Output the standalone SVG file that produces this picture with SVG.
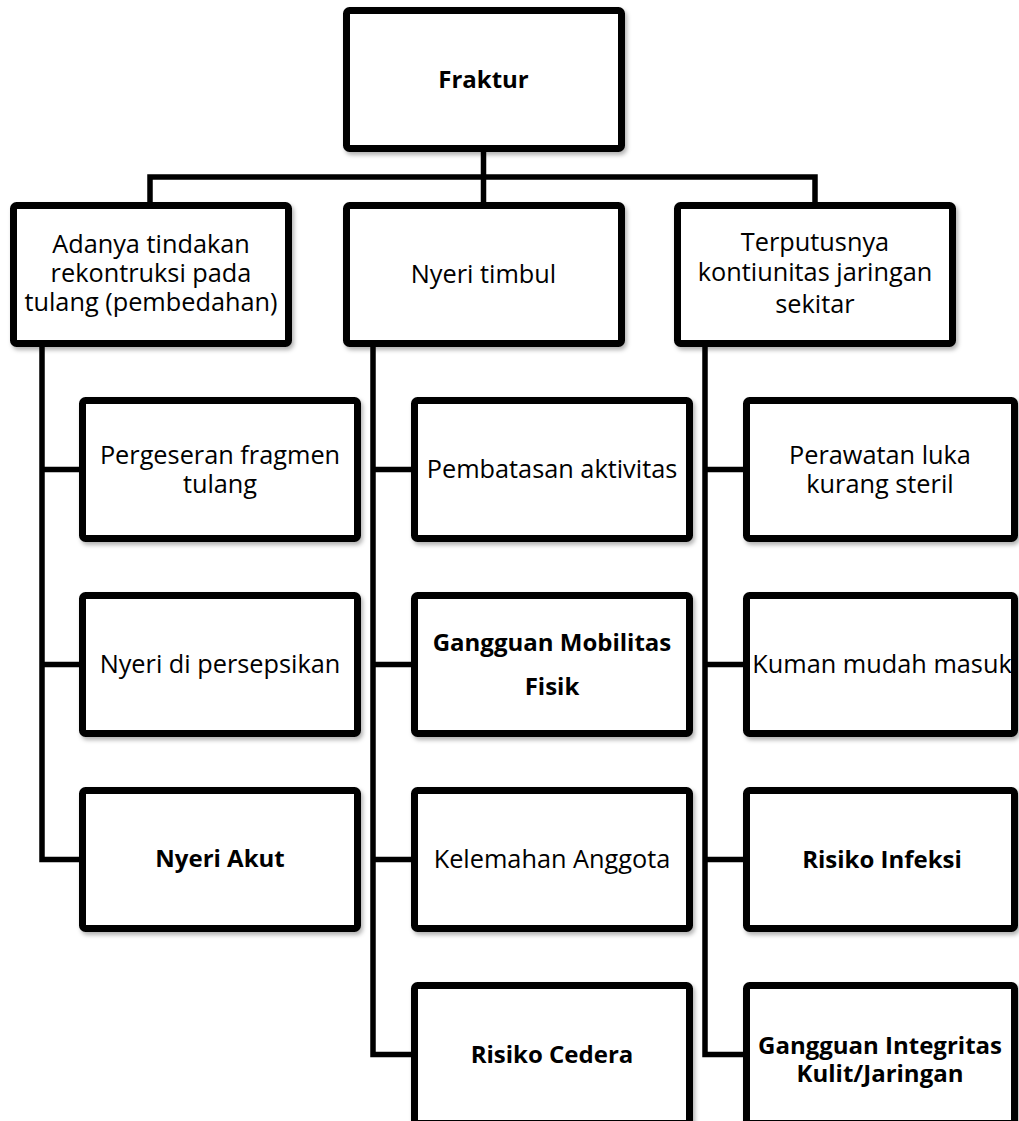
<svg xmlns="http://www.w3.org/2000/svg" width="1019" height="1121" viewBox="0 0 1019 1121">
  <style>
    .box { fill: #ffffff; stroke: #000000; stroke-width: 7; filter: url(#sh); }
    .t { font-family: "Open Sans", "Liberation Sans", sans-serif; font-size: 25.3px; text-anchor: middle; fill: #000000; }
    .b { font-weight: bold; font-size: 24px; }
    .conn { fill: none; stroke: #000000; stroke-width: 5.5; stroke-linejoin: miter; stroke-linecap: butt; }
  </style>
  <defs>
    <filter id="sh" x="-10%" y="-10%" width="125%" height="130%">
      <feDropShadow dx="2" dy="3" stdDeviation="2" flood-color="#000000" flood-opacity="0.3"/>
    </filter>
  </defs>
  <rect width="1019" height="1121" fill="#ffffff"/>

  <g id="connectors">
    <path class="conn" d="M483.5,152 V203 M150,203 V177 H815 V203"/>
    <path class="conn" d="M42,347 V859.5 H80 M42,469.5 H80 M42,664.5 H80"/>
    <path class="conn" d="M373,347 V1054.5 H412 M373,469.5 H412 M373,664.5 H412 M373,859.5 H412"/>
    <path class="conn" d="M705,347 V1054.5 H744 M705,469.5 H744 M705,664.5 H744 M705,859.5 H744"/>
  </g>

  <g id="n-fraktur">
    <rect class="box" x="346.5" y="10.5" width="275" height="138" rx="3"/>
    <text class="t b" x="483.5" y="88">Fraktur</text>
  </g>

  <g id="n-adanya">
    <rect class="box" x="13.5" y="205.5" width="275" height="138" rx="3"/>
    <text class="t" x="151" y="253">Adanya tindakan</text>
    <text class="t" x="151" y="282">rekontruksi pada</text>
    <text class="t" x="151" y="311">tulang (pembedahan)</text>
  </g>
  <g id="n-nyeri-timbul">
    <rect class="box" x="346.5" y="205.5" width="275" height="138" rx="3"/>
    <text class="t" x="483.5" y="283">Nyeri timbul</text>
  </g>
  <g id="n-terputusnya">
    <rect class="box" x="677.5" y="205.5" width="275" height="138" rx="3"/>
    <text class="t" x="815" y="251">Terputusnya</text>
    <text class="t" x="815" y="281">kontiunitas jaringan</text>
    <text class="t" x="815" y="313">sekitar</text>
  </g>

  <g id="n-pergeseran">
    <rect class="box" x="82.5" y="400.5" width="275" height="138" rx="3"/>
    <text class="t" x="220" y="464">Pergeseran fragmen</text>
    <text class="t" x="220" y="493">tulang</text>
  </g>
  <g id="n-nyeri-persepsikan">
    <rect class="box" x="82.5" y="595.5" width="275" height="138" rx="3"/>
    <text class="t" x="220" y="673">Nyeri di persepsikan</text>
  </g>
  <g id="n-nyeri-akut">
    <rect class="box" x="82.5" y="790.5" width="275" height="138" rx="3"/>
    <text class="t b" x="220" y="867">Nyeri Akut</text>
  </g>

  <g id="n-pembatasan">
    <rect class="box" x="414.5" y="400.5" width="275" height="138" rx="3"/>
    <text class="t" x="552" y="478">Pembatasan aktivitas</text>
  </g>
  <g id="n-gangguan-mobilitas">
    <rect class="box" x="414.5" y="595.5" width="275" height="138" rx="3"/>
    <text class="t b" x="552" y="651">Gangguan Mobilitas</text>
    <text class="t b" x="552" y="695">Fisik</text>
  </g>
  <g id="n-kelemahan">
    <rect class="box" x="414.5" y="790.5" width="275" height="138" rx="3"/>
    <text class="t" x="552" y="868">Kelemahan Anggota</text>
  </g>
  <g id="n-risiko-cedera">
    <rect class="box" x="414.5" y="985.5" width="275" height="138" rx="3"/>
    <text class="t b" x="552" y="1063">Risiko Cedera</text>
  </g>

  <g id="n-perawatan">
    <rect class="box" x="746.5" y="400.5" width="268" height="138" rx="3"/>
    <text class="t" x="880" y="464">Perawatan luka</text>
    <text class="t" x="880" y="493">kurang steril</text>
  </g>
  <g id="n-kuman">
    <rect class="box" x="746.5" y="595.5" width="268" height="138" rx="3"/>
    <text class="t" x="882" y="673">Kuman mudah masuk</text>
  </g>
  <g id="n-risiko-infeksi">
    <rect class="box" x="746.5" y="790.5" width="268" height="138" rx="3"/>
    <text class="t b" x="882" y="868">Risiko Infeksi</text>
  </g>
  <g id="n-gangguan-integritas">
    <rect class="box" x="746.5" y="985.5" width="268" height="138" rx="3"/>
    <text class="t b" x="880" y="1054">Gangguan Integritas</text>
    <text class="t b" x="880" y="1082">Kulit/Jaringan</text>
  </g>
</svg>
